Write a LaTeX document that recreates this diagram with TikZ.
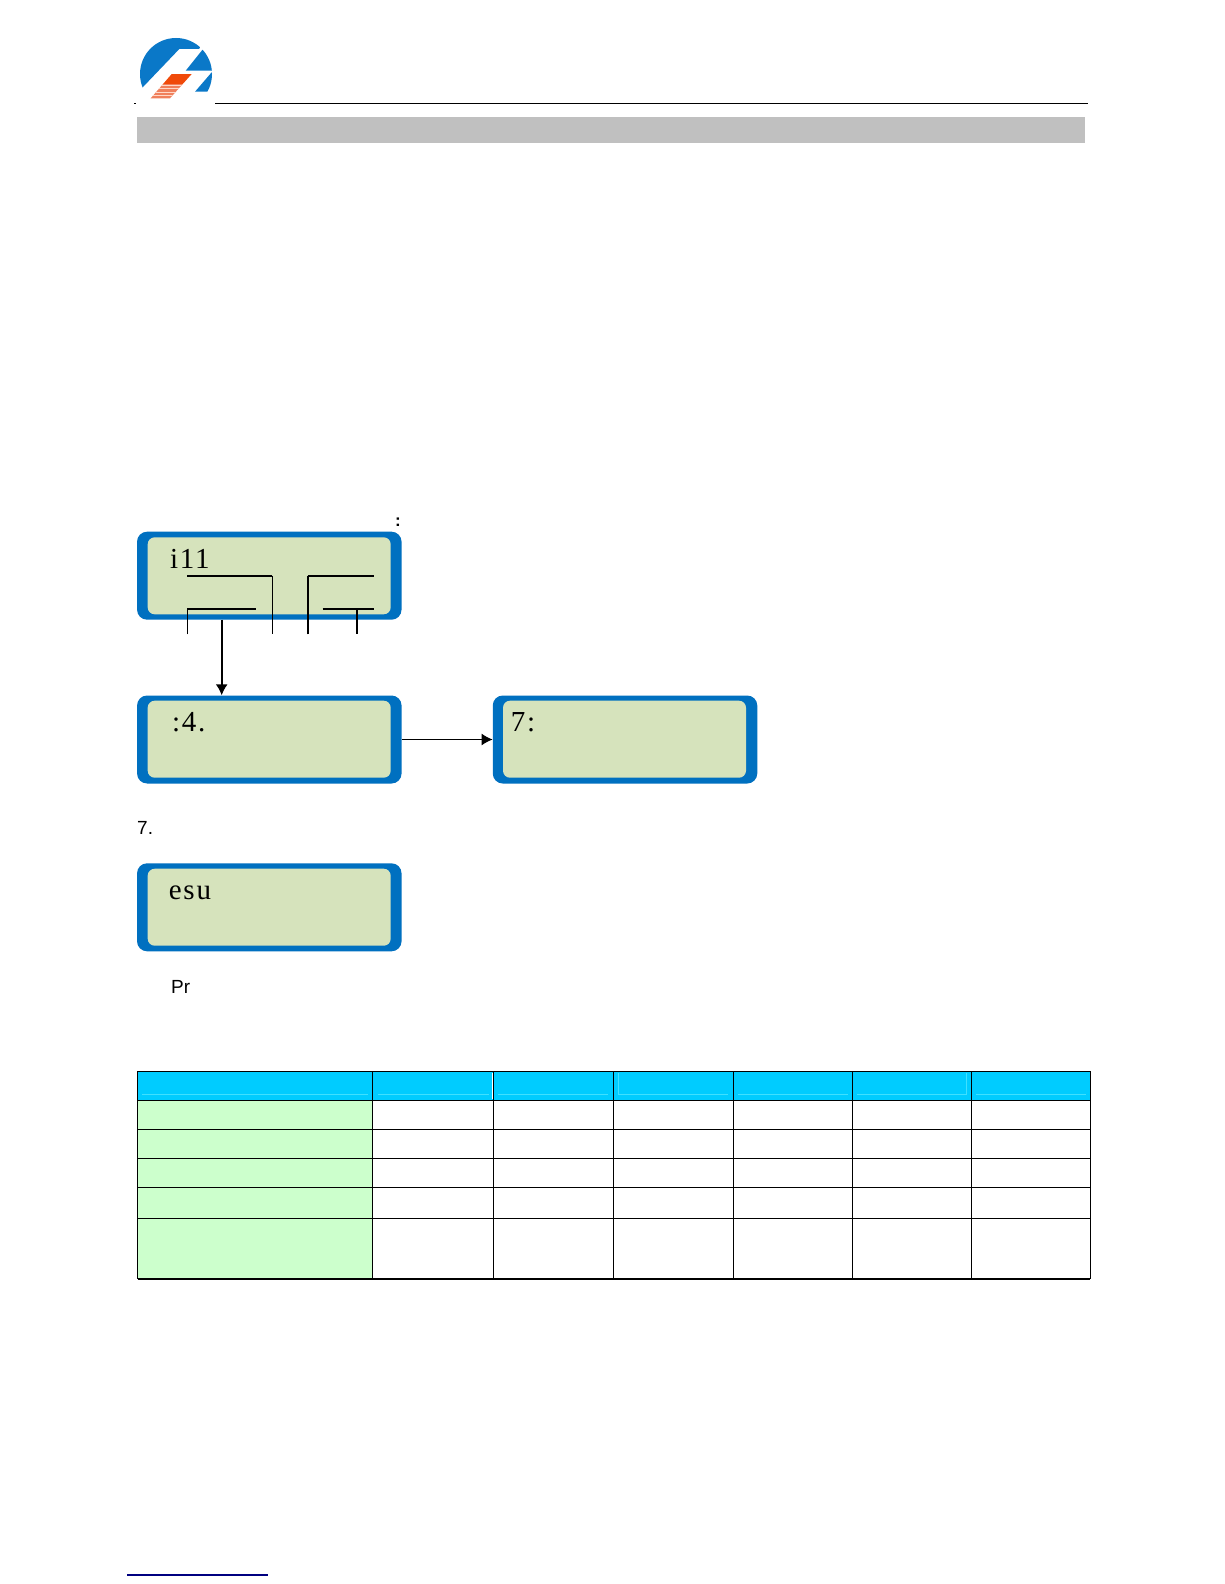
\documentclass[tikz,border=0pt]{standalone}
\usepackage{fontspec}
\setmainfont{Liberation Serif}
\newfontfamily\labelfont{Liberation Sans}
\usetikzlibrary{arrows.meta,positioning,calc}

\definecolor{lcdblue}{HTML}{0070C0}
\definecolor{lcdgreen}{HTML}{D6E3BC}
\definecolor{logoblue}{HTML}{0A78C8}
\definecolor{logored}{HTML}{F04A0A}
\definecolor{logosalmon}{HTML}{F0805C}
\definecolor{logostripe}{HTML}{FFD8C8}
\definecolor{barcolor}{HTML}{C0C0C0}
\definecolor{headcyan}{HTML}{00CCFF}
\definecolor{headline}{HTML}{40E0FF}
\definecolor{rowgreen}{HTML}{CCFFCC}

\begin{document}
\begin{tikzpicture}[
  x=1pt, y=-1pt,
  lcdframe/.style={rectangle, fill=lcdblue, rounded corners=10pt, inner sep=0pt,
    minimum width=264.5pt, minimum height=88pt},
  lcdglass/.style={rectangle, fill=lcdgreen, rounded corners=7pt, inner sep=0pt,
    minimum width=243pt, minimum height=77pt},
  lcdtext/.style={anchor=base west, inner sep=0pt,
    font=\fontsize{29}{30}\selectfont\addfontfeature{LetterSpace=6}},
  plain/.style={anchor=base west, inner sep=0pt, font=\labelfont\fontsize{19}{20}\selectfont},
  tip/.style={-{Latex[length=11pt,width=12pt]}},
  wire/.style={line width=1.2pt},
  wirewide/.style={line width=1.8pt},
  wirethick/.style={line width=2pt},
  grid/.style={line width=1.3pt, black}
]
  \useasboundingbox (0,0) rectangle (1224,1584);
  \fill[white] (0,0) rectangle (1224,1584);

  % logo
  \begin{scope}
    \clip (176,74) circle (36);
    \fill[logoblue] (143.3,86.7) -- (179.3,49) -- (199,49) -- (212,30) -- (130,30) -- (130,100) -- cycle;
    \fill[logoblue] (202.3,50) -- (185.7,70.7) -- (215,70.7) -- (215,50) -- cycle;
    \fill[logoblue] (211.7,72.3) -- (195,91.7) -- (215,91.7) -- (215,72.3) -- cycle;
  \end{scope}
  \begin{scope}
    \clip (171.7,74) -- (191.7,74) -- (170,98.3) -- (150.7,98.3) -- cycle;
    \fill[logored] (150,74) rectangle (192,84);
    \fill[logosalmon] (150,84) rectangle (192,99);
    \foreach \y in {85,88.5,92,95}
      \draw[logostripe, line width=0.8pt] (150,\y) -- (192,\y);
  \end{scope}

  % page head
  \draw[line width=1.3pt] (134,103.5) -- (135.5,103.5);
  \draw[line width=1.3pt] (215,103.5) -- (1088,103.5);
  \fill[barcolor] (137,116.7) rectangle (1085,142.7);

  % first display
  \node[lcdframe] (menu) at (269.3,575.7) {};
  \node[lcdglass] (menuglass) at (269.2,575.8) {};
  \node[lcdtext] (menutext) at (170,568) {i11};
  \node[anchor=center, inner sep=0pt, font=\labelfont\bfseries\fontsize{17}{17}\selectfont] (colon) at (398,522.5) {:};

  \coordinate (a1) at (187.3,609);
  \coordinate (a2) at (187.3,634.3);
  \coordinate (a3) at (255.7,609);
  \coordinate (b1) at (187.3,575.7);
  \coordinate (b2) at (272.3,575.7);
  \coordinate (b3) at (272.3,634.3);
  \coordinate (c1) at (307.7,634.3);
  \coordinate (c2) at (307.7,575.7);
  \coordinate (c3) at (374.3,575.7);
  \coordinate (d1) at (322.7,609);
  \coordinate (d2) at (374.3,609);
  \coordinate (d3) at (356.7,609);
  \coordinate (d4) at (356.7,634.3);
  \draw[wire] (a2) -- (a1);
  \draw[wirewide] (a1) -- (a3);
  \draw[wirewide] (b1) -- (b2);
  \draw[wire] (b2) -- (b3);
  \draw[wirewide] (c2) -- (c3);
  \draw[wirethick] (c1) -- (c2);
  \draw[wirewide] (d1) -- (d2);
  \draw[wirethick] (d3) -- (d4);

  % second and third display
  \node[lcdframe] (date) at (269.3,739.5) {};
  \node[lcdglass] (dateglass) at (269.2,739.2) {};
  \node[lcdtext] (datetext) at (172,731.7) {:4.};
  \node[lcdframe] (time) at (625,739.5) {};
  \node[lcdglass] (timeglass) at (624.5,739.2) {};
  \node[lcdtext] (timetext) at (510.7,731.7) {7:};

  \draw[tip, line width=1.6pt] (221.7,619.7) -- (221.7,695.3);
  \draw[tip, line width=1pt] (date) -- (time);

  \node[plain] (step) at (137,834.3) {7.};

  % last display
  \node[lcdframe] (result) at (269.3,907.3) {};
  \node[lcdglass] (resultglass) at (269.2,907.2) {};
  \node[lcdtext] (resulttext) at (168.7,899) {esu};
  \node[plain] (press) at (171,993.3) {Pr};

  % table
  \fill[headcyan] (137.7,1071.3) rectangle (1090.3,1100.3);
  \fill[rowgreen] (137.7,1100.3) rectangle (372.7,1279);
  \foreach \a/\b in {142/368,378/488.5,498/608,618/728,738/847.5,857/966.5,976/1086}
    \draw[headline, line width=0.7pt] (\a,1094.3) -- (\b,1094.3);
  \draw[headline, line width=0.7pt] (618,1073) -- (618,1094.3);
  \draw[headline, line width=0.7pt] (966.5,1073) -- (966.5,1094.3);
  \draw[white, line width=0.7pt] (492.3,1073) -- (492.3,1099);
  \foreach \y in {1071.3,1100.3,1129.3,1158.3,1187.3,1218.3,1279}
    \draw[grid] (137.7,\y) -- (1090.3,\y);
  \foreach \x in {137.7,372.7,493.5,613.3,733.3,852.3,971.3,1090.3}
    \draw[grid] (\x,1071.3) -- (\x,1279);

  % foot
  \draw[blue!50!black, line width=1.3pt] (127,1575) -- (268,1575);
\end{tikzpicture}
\end{document}
